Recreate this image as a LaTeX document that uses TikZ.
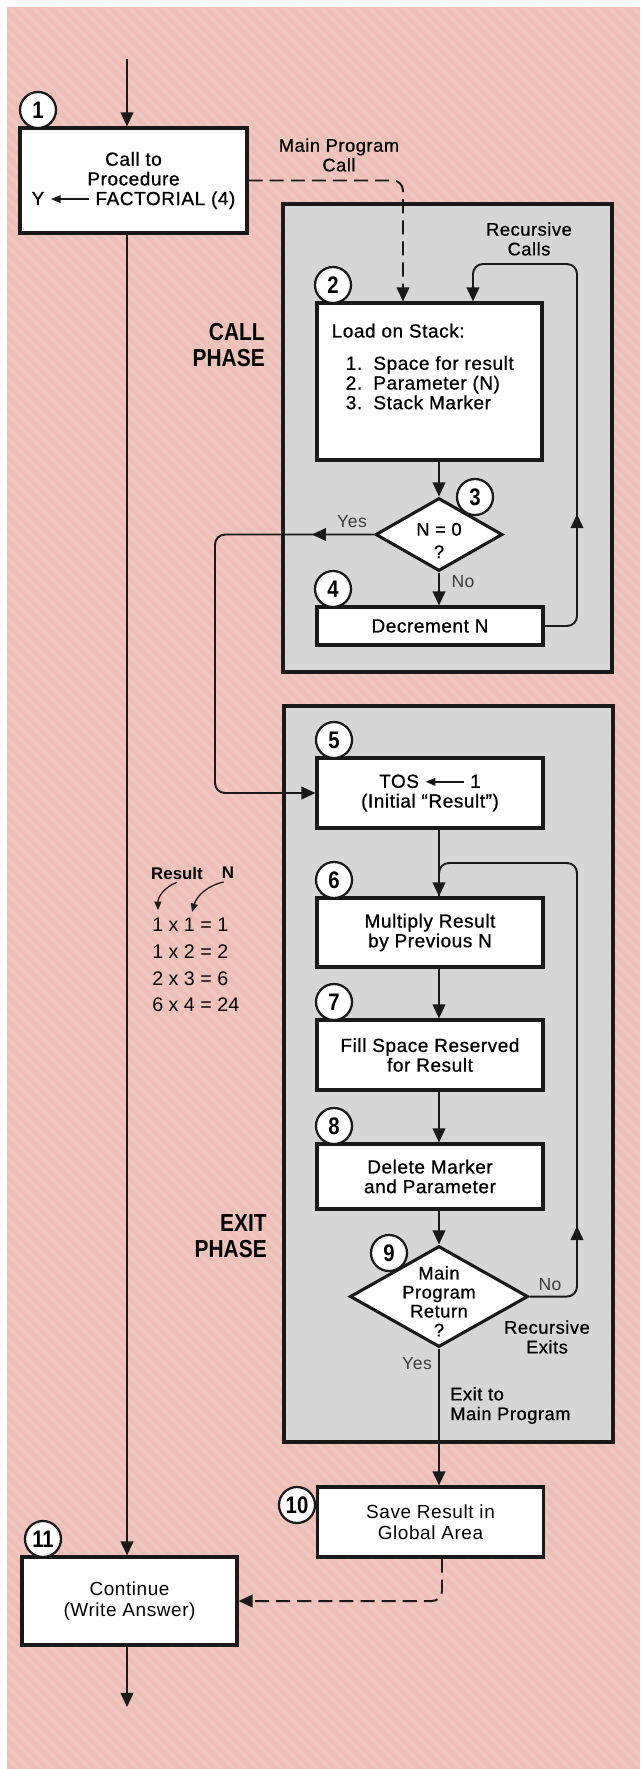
\documentclass[tikz,border=0pt]{standalone}
\usepackage{fontspec}
\setmainfont{Liberation Sans}
\newfontfamily\medfont[FakeBold=0.8, LetterSpace=3]{Liberation Sans}
\newfontfamily\plainfont[LetterSpace=3]{Liberation Sans}
\newfontfamily\condfont[FakeStretch=0.85]{Liberation Sans}
\usepackage{xcolor}
\usepackage{tikz}
\usetikzlibrary{shapes.geometric, positioning, arrows.meta, decorations.markings}

\definecolor{pagepink}{RGB}{237,191,183}
\definecolor{panelgray}{RGB}{214,214,214}
\definecolor{ink}{RGB}{25,25,25}

% small assignment arrow used inside box text
\newcommand{\assignarrow}{\tikz[baseline=-0.6ex]\draw[{Triangle[width=5.5pt,length=7pt]}-, draw=ink, line width=1.1pt] (0,0) -- (2em,0);}

\begin{document}
\begin{tikzpicture}[x=0.025cm, y=-0.025cm,
    box/.style={draw=ink, line width=2.2pt, fill=white, minimum width=5.65cm, align=center, inner sep=0pt, font=\medfont\fontsize{13.5}{14}\selectfont},
    decision/.style={diamond, draw=ink, line width=2.2pt, fill=white, inner sep=0pt},
    num/.style={circle, draw=ink, line width=1.6pt, fill=white, minimum size=0.9cm, inner sep=0pt, font=\condfont\bfseries\fontsize{17}{17}\selectfont},
    panel/.style={draw=ink, line width=2.6pt, fill=panelgray},
    flowline/.style={draw=ink, line width=1.4pt},
    flow/.style={flowline, -{Triangle[width=9pt,length=10pt]}},
    dashflow/.style={flow, dash pattern=on 10pt off 5pt},
    midarrow/.style={postaction={decorate, decoration={markings, mark=at position #1 with {\arrow{Triangle[width=9pt,length=10pt]}}}}},
    lbl/.style={align=center, inner sep=0pt, font=\medfont\fontsize{13}{14}\selectfont},
    yesno/.style={inner sep=0pt, text=ink!85, font=\plainfont\fontsize{12.5}{14}\selectfont},
    phase/.style={align=right, inner sep=0pt, font=\condfont\bfseries\fontsize{17.5}{18.5}\selectfont},
    eqn/.style={align=left, inner sep=0pt, font=\fontsize{14}{19}\selectfont},
    curv/.style={draw=ink, line width=0.9pt, -{Triangle[width=5pt,length=6pt]}}
]
    \useasboundingbox (0,0) rectangle (640,1769);
    \fill[white] (0,0) rectangle (640,1769);
    \fill[pagepink] (7,7) rectangle (640,1769);
    % faint diagonal print stripes
    \begin{scope}
        \clip (7,7) rectangle (640,1769);
        \foreach \s in {-1780,-1768,...,640}
            \draw[white, opacity=0.13, line width=2.2pt] (\s,7) -- ++(1762,1762);
    \end{scope}

    % Phase panels
    \draw[panel] (283,204) rectangle (612,672);
    \draw[panel] (284,706) rectangle (613,1442);
    \node (callphase) [phase, anchor=east] at (265,345) {CALL\\PHASE};
    \node (exitphase) [phase, anchor=east] at (267,1236) {EXIT\\PHASE};

    % Main program
    \node (b1) [box, minimum width=5.675cm, minimum height=2.625cm] at (133.5,180.5) {Call to\\Procedure\\Y \assignarrow\ FACTORIAL (4)};
    \node (b11) [box, minimum width=5.375cm, minimum height=2.2cm, font=\plainfont\fontsize{13.5}{14.5}\selectfont] at (129.5,1601) {Continue\\(Write Answer)};

    % Call phase
    \node (b2) [box, minimum width=5.625cm, minimum height=3.925cm] at (429.5,381.5) {};
    \node (b2txt) [below right=0.55cm and 0.4cm of b2.north west, anchor=north west, align=left, inner sep=0pt, font=\medfont\fontsize{13.5}{14}\selectfont]
        {Load on Stack:\\[9pt]
         \hspace*{10pt}1.\hspace{8pt}Space for result\\
         \hspace*{10pt}2.\hspace{8pt}Parameter (N)\\
         \hspace*{10pt}3.\hspace{8pt}Stack Marker};
    \node (d3) [decision, minimum width=3.175cm, minimum height=1.825cm, label={[lbl, yshift=-0.15cm]center:{N = 0\\[2pt]?}}] at (439,534.5) {};
    \node (b4) [box, minimum height=0.95cm] at (430,626) {Decrement N};

    % Exit phase
    \node (b5) [box, minimum height=1.75cm] at (430,793) {TOS \assignarrow\ 1\\(Initial “Result”)};
    \node (b6) [box, minimum height=1.725cm] at (430,932.5) {Multiply Result\\by Previous N};
    \node (b7) [box, minimum height=1.75cm] at (430,1055) {Fill Space Reserved\\for Result};
    \node (b8) [box, minimum height=1.625cm] at (430,1176.5) {Delete Marker\\and Parameter};
    \node (d9) [decision, minimum width=4.45cm, minimum height=2.525cm, label={[lbl, yshift=-0.12cm, font=\medfont\fontsize{13}{13.5}\selectfont]center:{Main\\Program\\Return\\?}}] at (439,1296.5) {};
    \node (b10) [box, minimum height=1.75cm, font=\plainfont\fontsize{13.5}{14.5}\selectfont] at (430.5,1522) {Save Result in\\Global Area};

    % Step numbers
    \node (c1) [num] at (38,110) {1};
    \node (c2) [num] at (333,285) {2};
    \node (c3) [num] at (475,497) {3};
    \node (c4) [num] at (333,589) {4};
    \node (c5) [num] at (334,740) {5};
    \node (c6) [num] at (334,880) {6};
    \node (c7) [num] at (334,1002) {7};
    \node (c8) [num] at (334,1126) {8};
    \node (c9) [num] at (389,1253) {9};
    \node (c10) [num] at (297,1505) {10};
    \node (c11) [num] at (43,1539) {11};

    % Labels
    \node (mpcall) [lbl] at (339,155) {Main Program\\Call};
    \node (reccalls) [lbl] at (529,239) {Recursive\\Calls};
    \node (recexits) [lbl] at (547,1337) {Recursive\\Exits};
    \node (tomain) [lbl, align=left, anchor=west] at (450,1405.5) {Exit to\\Main Program};
    \node (yes3) [yesno] at (352,522) {Yes};
    \node (no3) [yesno] at (463,582) {No};
    \node (no9) [yesno] at (550,1285) {No};
    \node (yes9) [yesno] at (417,1364) {Yes};

    % Factorial side note
    \node (resl) [inner sep=0pt, font=\bfseries\fontsize{12}{14}\selectfont] at (177,873) {Result};
    \node (resn) [inner sep=0pt, font=\bfseries\fontsize{12}{14}\selectfont] at (228,873) {N};
    \node (eqs) [eqn, anchor=west] at (152,965) {1 x 1 = 1\\1 x 2 = 2\\2 x 3 = 6\\6 x 4 = 24};
    \coordinate (rtip) at (158,910);
    \coordinate (ntip) at (192,912);
    \draw[curv] ([yshift=-2pt]resl.south) to[bend right=35] (rtip);
    \draw[curv] ([xshift=-3pt,yshift=-2pt]resn.south) to[bend right=30] (ntip);

    % Main program flow
    \coordinate (entry) at (127,59);
    \coordinate (leave) at (127,1707);
    \draw[flow] (entry) -- (b1.north -| entry);
    \draw[flow] (b1.south -| entry) -- (b11.north -| entry);
    \draw[flow] (b11.south -| entry) -- (leave);

    % Main program call
    \coordinate (callx) at (403,0);
    \draw[dashflow, rounded corners=0.25cm] (b1.east) -| (b2.north -| callx);

    % Call phase flow
    \draw[flow] (b2.south -| d3.north) -- (d3.north);
    \draw[flow] (d3.south) -- (b4.north -| d3.south);
    \coordinate (rctop) at (577,264);
    \coordinate (rcin) at (473,264);
    \draw[flow, rounded corners=0.25cm, midarrow=3.5cm] (b4.east) -| (rctop) -| (b2.north -| rcin);
    \coordinate (yesx) at (215,0);
    \draw[flow, rounded corners=0.25cm, midarrow=1.55cm] (d3.west) -| (yesx |- b5.west) -- (b5.west);

    % Exit phase flow
    \draw[flow] (b5.south -| d9.north) -- (b6.north -| d9.north);
    \draw[flow] (b6.south -| d9.north) -- (b7.north -| d9.north);
    \draw[flow] (b7.south -| d9.north) -- (b8.north -| d9.north);
    \draw[flow] (b8.south -| d9.north) -- (d9.north);
    \coordinate (extop) at (577,863);
    \draw[flowline, rounded corners=0.25cm, midarrow=2.84cm] (d9.east) -| (extop) -| (b6.north -| d9.north);
    \draw[flow] (d9.south) -- (b10.north -| d9.south);

    % Return to main program
    \coordinate (retx) at (442,0);
    \draw[dashflow, rounded corners=0.25cm] (b10.south -| retx) |- (b11.east);
\end{tikzpicture}
\end{document}
